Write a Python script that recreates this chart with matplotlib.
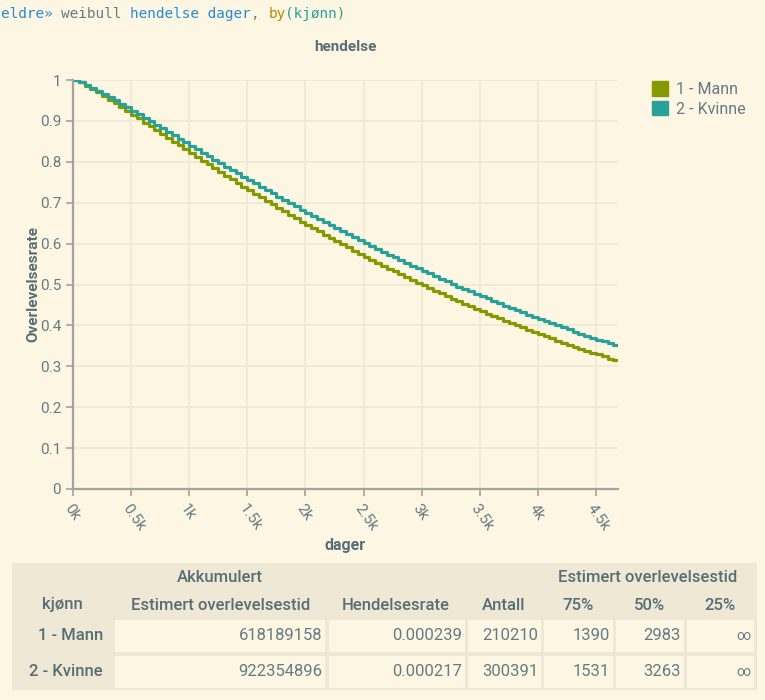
import numpy as np
import matplotlib
matplotlib.use("Agg")
import matplotlib.pyplot as plt
from matplotlib.patches import Patch, Rectangle

# solarized-ish farger
bg = "#fdf6e3"
bg2 = "#eee8d5"
txt = "#586e75"
txt2 = "#657b83"
c_mann = "#859900"
c_kvinne = "#2aa198"

plt.rcParams["font.family"] = ["Roboto", "DejaVu Sans"]

# data: overlevelsesrate hver 50. dag
dager = np.arange(0, 4700, 50)
dager_max = 4690
mann = [1.000, 0.994, 0.986, 0.978, 0.970, 0.961, 0.952, 0.943, 0.934, 0.925,
        0.915, 0.906, 0.896, 0.887, 0.878, 0.868, 0.859, 0.849, 0.840, 0.831,
        0.821, 0.812, 0.803, 0.794, 0.784, 0.775, 0.766, 0.757, 0.748, 0.739,
        0.730, 0.722, 0.713, 0.704, 0.696, 0.687, 0.679, 0.670, 0.662, 0.654,
        0.646, 0.638, 0.630, 0.622, 0.614, 0.606, 0.598, 0.591, 0.583, 0.575,
        0.568, 0.561, 0.553, 0.546, 0.539, 0.532, 0.525, 0.518, 0.511, 0.504,
        0.498, 0.491, 0.485, 0.478, 0.472, 0.465, 0.459, 0.453, 0.447, 0.441,
        0.435, 0.429, 0.423, 0.417, 0.411, 0.406, 0.400, 0.395, 0.389, 0.384,
        0.378, 0.373, 0.368, 0.363, 0.358, 0.353, 0.348, 0.343, 0.338, 0.333,
        0.329, 0.324, 0.319, 0.315]
kvinne = [1.000, 0.995, 0.988, 0.981, 0.973, 0.966, 0.958, 0.950, 0.941, 0.933,
          0.925, 0.916, 0.908, 0.899, 0.891, 0.882, 0.873, 0.865, 0.856, 0.848,
          0.839, 0.831, 0.822, 0.814, 0.805, 0.797, 0.788, 0.780, 0.772, 0.763,
          0.755, 0.747, 0.739, 0.731, 0.723, 0.715, 0.707, 0.699, 0.691, 0.683,
          0.675, 0.668, 0.660, 0.653, 0.645, 0.638, 0.630, 0.623, 0.616, 0.608,
          0.601, 0.594, 0.587, 0.580, 0.573, 0.567, 0.560, 0.553, 0.546, 0.540,
          0.533, 0.527, 0.520, 0.514, 0.508, 0.502, 0.495, 0.489, 0.483, 0.477,
          0.471, 0.466, 0.460, 0.454, 0.448, 0.443, 0.437, 0.432, 0.426, 0.421,
          0.416, 0.410, 0.405, 0.400, 0.395, 0.390, 0.385, 0.380, 0.375, 0.370,
          0.365, 0.361, 0.356, 0.351]
grupper = ["1 - Mann", "2 - Kvinne"]
xticks = [0, 500, 1000, 1500, 2000, 2500, 3000, 3500, 4000, 4500]
xticklabels = ["0k", "0.5k", "1k", "1.5k", "2k", "2.5k", "3k", "3.5k", "4k", "4.5k"]

# tabell
tab_akk = ["618189158", "922354896"]
tab_rate = ["0.000239", "0.000217"]
tab_antall = ["210210", "300391"]
tab_p75 = ["1390", "1531"]
tab_p50 = ["2983", "3263"]
tab_p25 = ["\u221e", "\u221e"]

W, H = 765, 700
fig = plt.figure(figsize=(W / 100, H / 100), dpi=100, facecolor=bg)

ax = fig.add_axes([73 / W, 1 - 489 / H, (618 - 73) / W, (489 - 80) / H])
ax.set_facecolor(bg)

x = np.append(dager, dager_max)
ax.plot(x, mann + [mann[-1]], drawstyle="steps-post", color=c_mann, lw=2.3)
ax.plot(x, kvinne + [kvinne[-1]], drawstyle="steps-post", color=c_kvinne, lw=2.3)

ax.set_xlim(0, dager_max)
ax.set_ylim(0, 1)
ax.set_yticks(np.arange(0, 1.01, 0.1))
ax.set_yticklabels(["0", "0.1", "0.2", "0.3", "0.4", "0.5", "0.6", "0.7", "0.8", "0.9", "1"])
ax.set_xticks(xticks)
ax.set_xticklabels(xticklabels, rotation=-55, ha="left", va="top", rotation_mode="anchor")
ax.grid(True, color=bg2, lw=1.2)
ax.set_axisbelow(True)
for s in ["top", "right"]:
    ax.spines[s].set_visible(False)
for s in ["left", "bottom"]:
    ax.spines[s].set_color("#a4a4a0")
    ax.spines[s].set_linewidth(1.6)
ax.tick_params(colors="#a4a4a0", labelcolor=txt2, labelsize=11, length=5, width=1.2)
ax.tick_params(axis="x", pad=4)

ax.set_title("hendelse", fontsize=11, fontweight="bold", color=txt, pad=21)
ax.set_ylabel("Overlevelsesrate", fontsize=11, fontweight="bold", color=txt)
ax.yaxis.set_label_coords(-0.06, 0.5)
ax.set_xlabel("dager", fontsize=11.5, fontweight="bold", color=txt, labelpad=3)

handles = [Patch(facecolor=c_mann, edgecolor=c_mann), Patch(facecolor=c_kvinne, edgecolor=c_kvinne)]
leg = fig.legend(handles, grupper, loc="upper left", bbox_to_anchor=(638 / W, 1 - 67 / H),
                 frameon=False, handlelength=1.0, handleheight=1.0, handletextpad=0.5,
                 labelspacing=0.25, fontsize=11.5)
for t in leg.get_texts():
    t.set_color(txt2)

# overlegg i pikselkoordinater for kommando-linje og tabell
ov = fig.add_axes([0, 0, 1, 1], facecolor="none")
ov.set_xlim(0, W)
ov.set_ylim(H, 0)
ov.axis("off")

mono = dict(family="DejaVu Sans Mono", fontsize=10.4, va="center", ha="left")
biter = [("eldre\u00bb ", "#268bd2"), ("weibull ", txt2), ("hendelse dager", "#268bd2"),
         (", ", txt2), ("by", "#b58900"), ("(kj\u00f8nn)", c_kvinne)]
pos = 0
for tekst, farge in biter:
    ov.text(1 + pos * 8.62, 14, tekst, color=farge, **mono)
    pos += len(tekst)

# tabell
ov.add_patch(Rectangle((12, 563), 745, 127, facecolor=bg2, edgecolor="none"))
cols = [(115, 325), (329, 465), (468, 541), (544, 613), (616, 684), (687, 754)]
rows = [(620, 652), (656, 688)]
for (x0, x1) in cols:
    for (y0, y1) in rows:
        ov.add_patch(Rectangle((x0, y0), x1 - x0, y1 - y0, facecolor=bg, edgecolor="none"))

hd = dict(fontsize=12, fontweight="medium", color=txt, va="center")
ov.text(220, 578, "Akkumulert", ha="center", **hd)
ov.text(648, 578, "Estimert overlevelsestid", ha="center", **hd)
ov.text(62, 605, "kj\u00f8nn", ha="center", **hd)
ov.text(221, 605, "Estimert overlevelsestid", ha="center", **hd)
ov.text(396, 605, "Hendelsesrate", ha="center", **hd)
ov.text(504, 605, "Antall", ha="center", **hd)
ov.text(578, 605, "75%", ha="center", **hd)
ov.text(650, 605, "50%", ha="center", **hd)
ov.text(720, 605, "25%", ha="center", **hd)

kolonner = [tab_akk, tab_rate, tab_antall, tab_p75, tab_p50, tab_p25]
for i, (y0, y1) in enumerate(rows):
    yc = (y0 + y1) / 2
    ov.text(103, yc, grupper[i], ha="right", **hd)
    for (x0, x1), kol in zip(cols, kolonner):
        fs = 10 if kol is tab_p25 else 12
        ov.text(x1 - 3, yc, kol[i], ha="right", va="center", fontsize=fs, color=txt2)

fig.savefig("out.png", dpi=100, facecolor=bg)
